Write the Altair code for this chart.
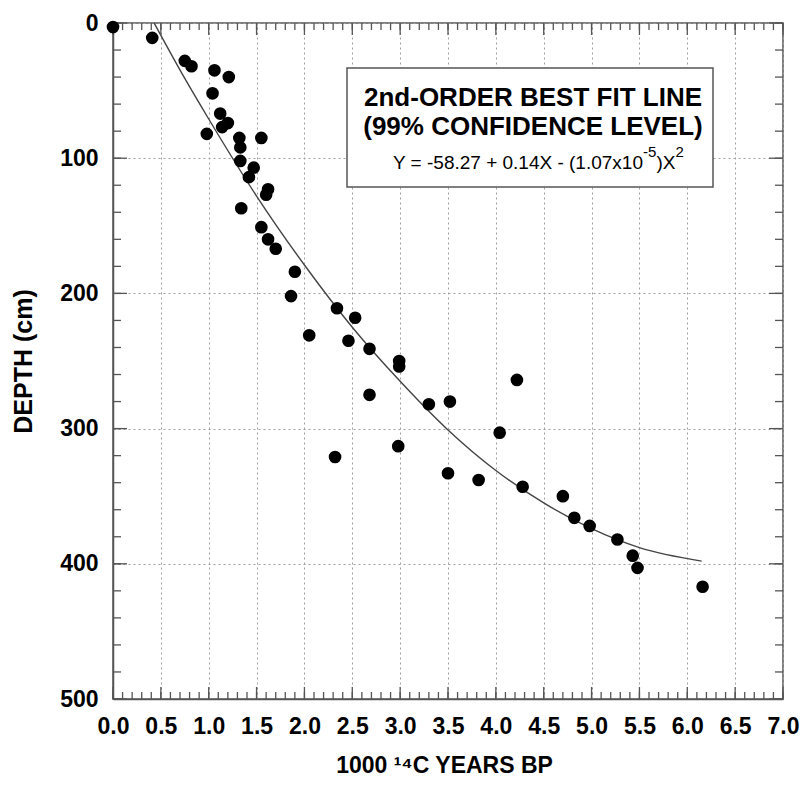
import altair as alt
import pandas as pd

# ---- data ----
age_kyr = [0.00, 0.41, 0.75, 0.82, 1.06, 1.21, 1.04, 1.12, 1.20, 1.14,
           0.98, 1.55, 1.32, 1.33, 1.33, 1.47, 1.42, 1.62, 1.60, 1.34,
           1.55, 1.62, 1.70, 1.90, 1.86, 2.34, 2.53, 2.05, 2.46, 2.68,
           2.99, 2.99, 2.68, 3.30, 3.52, 4.22, 4.04, 2.98, 2.32, 3.50,
           3.82, 4.28, 4.70, 4.82, 4.98, 5.27, 5.43, 5.48, 6.16]
depth_cm = [3, 11, 28, 32, 35, 40, 52, 67, 74, 77,
            82, 85, 85, 92, 102, 107, 114, 123, 127, 137,
            151, 160, 167, 184, 202, 211, 218, 231, 235, 241,
            250, 254, 275, 282, 280, 264, 303, 313, 321, 333,
            338, 343, 350, 366, 372, 382, 394, 403, 417]

# best-fit curve
fit_x = [0.43, 0.75, 1.0, 1.5, 2.0, 2.5, 3.0, 3.5, 4.0, 4.5, 5.0, 5.5, 6.15]
fit_y = [0, 41, 71, 128, 179, 225, 265, 301, 331, 355, 374, 388, 398]

x_labels = [0.0, 0.5, 1.0, 1.5, 2.0, 2.5, 3.0, 3.5, 4.0, 4.5, 5.0, 5.5, 6.0, 6.5, 7.0]
y_labels = [0, 100, 200, 300, 400, 500]
x_minor = [round(i * 0.1, 1) for i in range(71)]
y_minor = list(range(0, 501, 20))

title_lines = ["2nd-ORDER BEST FIT LINE", "(99% CONFIDENCE LEVEL)"]
eq_parts = ["Y = -58.27 + 0.14X - (1.07x10", "-5", ")X", "2"]

W, H = 670, 676
FONT = "Liberation Sans"
AX = "#555555"

xs = alt.Scale(domain=[0, 7], nice=False, zero=False)
ys = alt.Scale(domain=[0, 500], nice=False, reverse=True)

X_AXIS = alt.Axis(
    values=x_labels, format=".1f", labelFontSize=23, labelFontWeight="bold",
    labelFont=FONT, labelColor="black", labelPadding=16, labelFlush=False,
    labelOverlap=False, labelBound=False, ticks=False, tickSize=0,
    domainColor=AX, domainWidth=1.5,
    grid=True, gridDash=[2, 3], gridColor="#a0a0a0", gridWidth=1,
    title="1000 \u00b9\u2074C YEARS BP", titleFont=FONT, titleFontSize=23,
    titleFontWeight="bold", titleColor="black", titleX=331, titleY=66,
    titleBaseline="middle", titleAlign="center")
Y_AXIS = alt.Axis(
    values=y_labels, format="d", labelFontSize=23, labelFontWeight="bold",
    labelFont=FONT, labelColor="black", labelPadding=15, labelFlush=False,
    labelOverlap=False, labelBound=False, ticks=False, tickSize=0,
    domainColor=AX, domainWidth=1.5,
    grid=True, gridDash=[2, 3], gridColor="#a0a0a0", gridWidth=1,
    title="DEPTH (cm)", titleFont=FONT, titleFontSize=25, titleFontWeight="bold",
    titleColor="black", titleX=-90, titleY=338, titleAngle=270,
    titleBaseline="middle", titleAlign="center")


def X(field):
    return alt.X(field, type="quantitative", scale=xs, axis=X_AXIS)


def Y(field):
    return alt.Y(field, type="quantitative", scale=ys, axis=Y_AXIS)


pts = pd.DataFrame({"age": age_kyr, "depth": depth_cm})
fit = pd.DataFrame({"age": fit_x, "depth": fit_y})

points = alt.Chart(pts).mark_circle(size=160, color="black", opacity=1).encode(
    x=X("age"), y=Y("depth"))

curve = alt.Chart(fit).mark_line(color="#444444", strokeWidth=1.4,
                                 interpolate="monotone").encode(x=X("age"), y=Y("depth"))


def xticks(vals, length):
    df = pd.DataFrame({"age": vals})
    bot = alt.Chart(df).mark_rule(color=AX, strokeWidth=1.3).encode(
        x=X("age"), y=alt.value(H), y2=alt.value(H - length))
    top = alt.Chart(df).mark_rule(color=AX, strokeWidth=1.3).encode(
        x=X("age"), y=alt.value(0), y2=alt.value(length))
    return [bot, top]


def yticks(vals, length):
    df = pd.DataFrame({"depth": vals})
    left = alt.Chart(df).mark_rule(color=AX, strokeWidth=1.3).encode(
        y=Y("depth"), x=alt.value(0), x2=alt.value(length))
    right = alt.Chart(df).mark_rule(color=AX, strokeWidth=1.3).encode(
        y=Y("depth"), x=alt.value(W), x2=alt.value(W - length))
    return [left, right]


one = pd.DataFrame({"k": [0]})
box = alt.Chart(one).mark_rect(fill="white", stroke=AX, strokeWidth=1.5).encode(
    x=alt.value(234), x2=alt.value(600), y=alt.value(45), y2=alt.value(164))


def txt(text, x, y, size, weight="normal", align="center", baseline="middle"):
    return alt.Chart(one).mark_text(text=text, font=FONT, fontSize=size, fontWeight=weight,
                                    color="black", align=align, baseline=baseline).encode(
        x=alt.value(x), y=alt.value(y))


t1 = txt(title_lines[0], 420, 75, 26, "bold")
t2 = txt(title_lines[1], 420, 104, 26, "bold")
e1 = txt(eq_parts[0], 280, 146, 19, align="left", baseline="alphabetic")
e2 = txt(eq_parts[1], 530, 134, 15, align="left", baseline="alphabetic")
e3 = txt(eq_parts[2], 543.5, 146, 19, align="left", baseline="alphabetic")
e4 = txt(eq_parts[3], 562.5, 134, 15, align="left", baseline="alphabetic")

layers = [curve] + xticks(x_minor, 7) + xticks(x_labels, 12) + yticks(y_minor, 8) \
    + yticks(y_labels, 14) + [box, t1, t2, e1, e2, e3, e4, points]

chart = alt.layer(*layers).properties(
    width=W, height=H,
    autosize=alt.AutoSizeParams(type="none"),
    padding={"left": 105, "top": 15, "right": 17, "bottom": 80},
    background="white",
).configure_view(stroke=AX, strokeWidth=1.5)

chart.save("out.html", embed_options={"renderer": "svg", "actions": False})
